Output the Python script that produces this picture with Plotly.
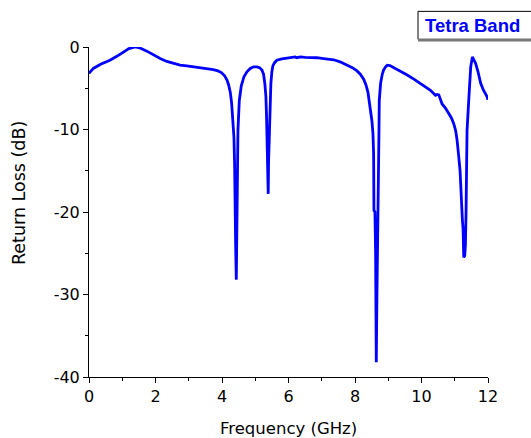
import plotly.graph_objects as go

# Measured return loss (S11) of the tetra-band antenna
freq_ghz = [
    0.00, 0.13, 0.35, 0.63, 0.85, 1.03, 1.20, 1.39, 1.55, 1.74, 1.95, 2.14, 2.34,
    2.54, 2.74, 2.94, 3.14, 3.34, 3.54, 3.74, 3.88, 3.98, 4.08, 4.15, 4.20, 4.25,
    4.29, 4.33, 4.36, 4.38, 4.39, 4.40, 4.41, 4.43, 4.44, 4.45, 4.46, 4.47, 4.48,
    4.52, 4.58, 4.66, 4.75, 4.85, 4.95, 5.05, 5.13, 5.20, 5.25, 5.29, 5.32, 5.34,
    5.35, 5.36, 5.37, 5.39, 5.40, 5.42, 5.44, 5.47, 5.50, 5.53, 5.58, 5.65, 5.80,
    5.95, 6.10, 6.20, 6.25, 6.36, 6.50, 6.70, 6.86, 7.05, 7.20, 7.36, 7.55, 7.76,
    7.92, 8.06, 8.16, 8.26, 8.33, 8.39, 8.46, 8.51, 8.54, 8.56, 8.57, 8.60, 8.62,
    8.63, 8.64, 8.66, 8.68, 8.70, 8.71, 8.72, 8.73, 8.77, 8.82, 8.86, 8.92, 8.97,
    9.05, 9.17, 9.37, 9.57, 9.77, 9.97, 10.12, 10.27, 10.42, 10.47, 10.52, 10.62,
    10.72, 10.82, 10.90, 10.97, 11.03, 11.07, 11.10, 11.12, 11.16, 11.18, 11.21,
    11.23, 11.25, 11.27, 11.30, 11.32, 11.34, 11.35, 11.36, 11.37, 11.42, 11.45,
    11.48, 11.53, 11.58, 11.63, 11.70, 11.78, 11.86, 11.93, 11.97, 12.00,
]
return_loss_db = [
    -3.2, -2.6, -2.1, -1.6, -1.1, -0.6, -0.2, 0.0, -0.15, -0.5, -1.0, -1.4, -1.75,
    -2.0, -2.2, -2.3, -2.4, -2.5, -2.6, -2.75, -2.9, -3.1, -3.5, -4.0, -4.6, -5.5,
    -6.8, -8.8, -11.0, -14.5, -20.2, -20.0, -24.0, -28.2, -23.3, -23.2, -17.0, -13.7, -10.1,
    -6.5, -4.7, -3.6, -3.0, -2.6, -2.4, -2.4, -2.5, -2.8, -3.3, -4.5, -6.0, -8.5,
    -11.0, -14.0, -17.8, -17.8, -14.0, -10.5, -7.0, -4.4, -3.0, -2.3, -1.9, -1.6, -1.45,
    -1.35, -1.3, -1.2, -1.3, -1.2, -1.25, -1.25, -1.3, -1.4, -1.45, -1.55, -1.8, -2.2,
    -2.5, -2.9, -3.3, -3.9, -4.6, -5.5, -7.3, -9.0, -10.5, -13.0, -19.8, -20.0, -25.0,
    -30.7, -38.2, -30.0, -20.0, -16.6, -13.0, -10.5, -6.5, -4.4, -3.3, -2.8, -2.4, -2.2,
    -2.25, -2.5, -2.9, -3.4, -3.9, -4.4, -4.8, -5.25, -5.85, -5.75, -5.8, -6.9,
    -7.4, -8.1, -8.6, -9.3, -10.2, -11.3, -12.2, -13.3, -15.0, -17.4, -19.0,
    -21.0, -22.0, -25.5, -25.3, -24.0, -20.0, -16.6, -12.0, -10.1, -6.5, -4.5,
    -2.4, -1.2, -1.6, -2.0, -3.0, -4.4, -5.2, -5.65, -6.0, -6.4,
]
x_ticks = [0, 2, 4, 6, 8, 10, 12]
y_ticks = [0, -10, -20, -30, -40]
series_name = "Tetra Band"

FONT = "DejaVu Sans, Arial, sans-serif"
LABEL_FONT = "Liberation Sans, Arial, sans-serif"
BLUE = "#0000ff"

fig = go.Figure()
fig.add_trace(go.Scatter(
    x=freq_ghz, y=return_loss_db, mode="lines",
    line=dict(color=BLUE, width=2.8), name=series_name, showlegend=False,
))

fig.update_xaxes(
    range=[0, 12], tickvals=x_ticks, ticktext=[str(v) for v in x_ticks],
    showline=True, linecolor="black", linewidth=1, showgrid=False, zeroline=False,
    ticks="outside", ticklen=5, tickcolor="black", tickwidth=1, automargin=False,
    minor=dict(dtick=1, tick0=0, ticks="outside", ticklen=3, tickcolor="black", showgrid=False),
    tickfont=dict(family=FONT, size=16, color="black"),
)
fig.update_yaxes(
    range=[-40, 0], tickvals=y_ticks, ticktext=[str(v) for v in y_ticks],
    showline=True, linecolor="black", linewidth=1, showgrid=False, zeroline=False,
    ticks="outside", ticklen=5, tickcolor="black", tickwidth=1, automargin=False,
    minor=dict(dtick=5, tick0=0, ticks="outside", ticklen=3, tickcolor="black", showgrid=False),
    tickfont=dict(family=FONT, size=16, color="black"),
)

# Axis titles as annotations for exact placement
fig.add_annotation(
    text="Frequency (GHz)", xref="paper", yref="paper", x=0.5, y=-0.155,
    showarrow=False, xanchor="center", yanchor="middle",
    font=dict(family=FONT, size=16.5, color="black"),
)
fig.add_annotation(
    text="Return Loss (dB)", xref="paper", yref="paper", x=-0.175, y=0.558,
    textangle=-90, showarrow=False, xanchor="center", yanchor="middle",
    font=dict(family=FONT, size=17.5, color="black"),
)

# Series label frame in the top-right corner, open towards the right edge
BOX_X0, BOX_X1 = 0.8246, 1.3
BOX_Y0, BOX_Y1 = 1.0233, 1.108
fig.add_shape(type="path", xref="paper", yref="paper",
              path=f"M {BOX_X1},{BOX_Y1} L {BOX_X0},{BOX_Y1} L {BOX_X0},{BOX_Y0}",
              line=dict(color="black", width=1))
fig.add_shape(type="line", xref="paper", yref="paper",
              x0=BOX_X0, x1=BOX_X1, y0=1.0215, y1=1.0215,
              line=dict(color="#777777", width=3))
fig.add_annotation(
    text=series_name, xref="paper", yref="paper", x=0.838, y=1.0658,
    showarrow=False, xanchor="left", yanchor="middle",
    font=dict(family=LABEL_FONT, size=18.5, color=BLUE, weight="bold"),
)

fig.update_layout(
    width=531, height=438,
    margin=dict(l=89, r=43, t=47, b=61),
    plot_bgcolor="white", paper_bgcolor="white",
    showlegend=False,
)

fig.write_html("out.html")
